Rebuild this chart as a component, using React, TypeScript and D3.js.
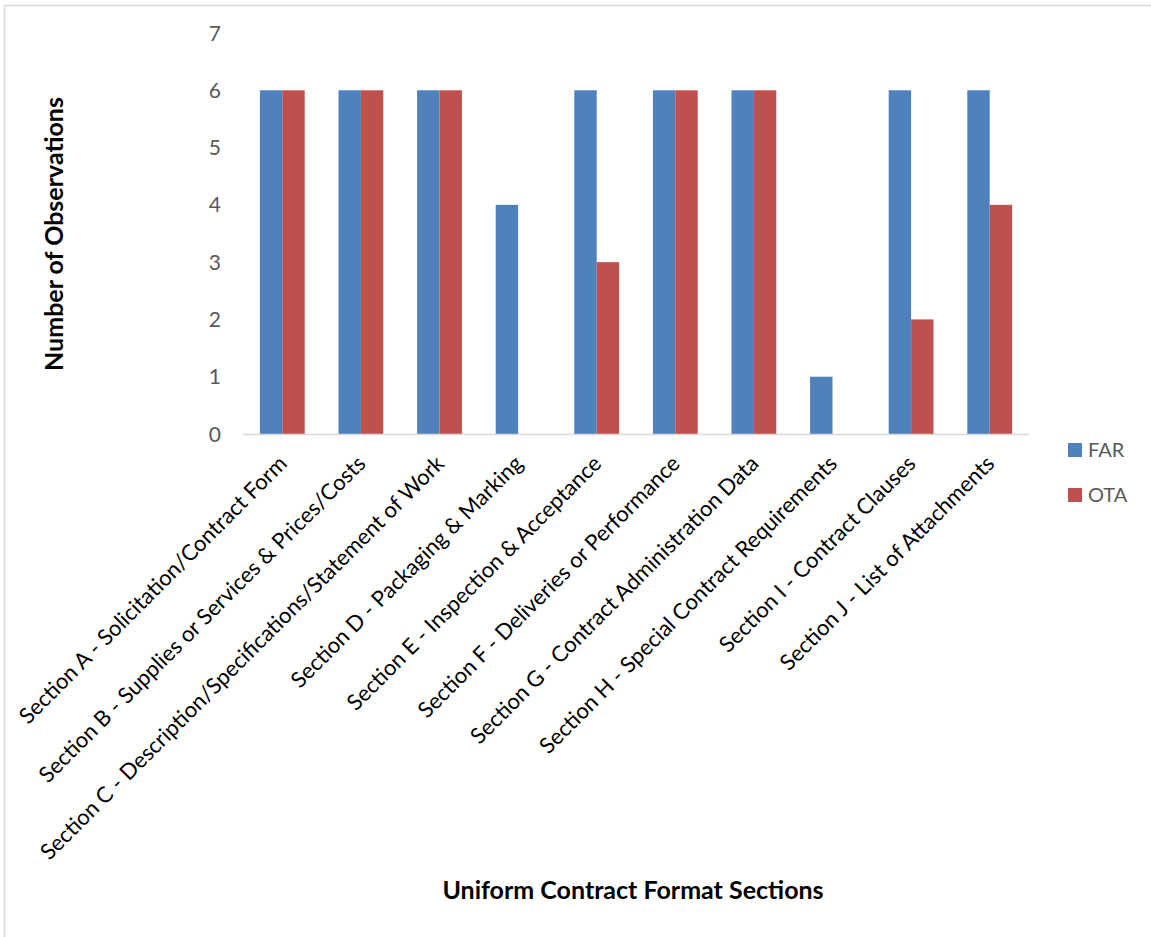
import React from "react";
import * as d3 from "d3";

const categories = [
  "Section A - Solicitation/Contract Form",
  "Section B - Supplies or Services & Prices/Costs",
  "Section C - Description/Specifications/Statement of Work",
  "Section D - Packaging & Marking",
  "Section E - Inspection & Acceptance",
  "Section F - Deliveries or Performance",
  "Section G - Contract Administration Data",
  "Section H - Special Contract Requirements",
  "Section I - Contract Clauses",
  "Section J - List of Attachments",
];
const farValues = [6, 6, 6, 4, 6, 6, 6, 1, 6, 6];
const otaValues = [6, 6, 6, 0, 3, 6, 6, 0, 2, 4];
const seriesNames = ["FAR", "OTA"];
const seriesColors = ["#4F81BD", "#C0504D"];
const yTicks = [0, 1, 2, 3, 4, 5, 6, 7];

const W = 1151;
const H = 937;
const FONT = "Lato, 'Open Sans', sans-serif";

export default function App() {
  const plot = { left: 243, right: 1029, top: 33, bottom: 434 };
  const x = d3.scaleBand<string>().domain(categories).range([plot.left, plot.right]).paddingInner(0.43).paddingOuter(0.215);
  const x1 = d3.scaleBand<string>().domain(seriesNames).range([0, x.bandwidth()]);
  const y = d3.scaleLinear().domain([0, 7]).range([plot.bottom, plot.top]);
  const series = [farValues, otaValues];

  return (
    <svg width={W} height={H} style={{ position: "absolute", left: 0, top: 0, background: "#fff" }}>
      <rect x={4.5} y={5.5} width={1200} height={1000} fill="#fff" stroke="#d9d9d9" strokeWidth={1.5} />
      {yTicks.map((t) => (
        <text key={t} x={221} y={y(t)} dy="0.36em" textAnchor="end" fontFamily={FONT} fontSize={21} fill="#595959">
          {t}
        </text>
      ))}
      {categories.map((c, i) =>
        series.map((vals, s) =>
          vals[i] > 0 ? (
            <rect
              key={c + s}
              x={(x(c) as number) + (x1(seriesNames[s]) as number)}
              y={y(vals[i])}
              width={x1.bandwidth()}
              height={y(0) - y(vals[i])}
              fill={seriesColors[s]}
            />
          ) : null
        )
      )}
      <line x1={plot.left} x2={plot.right} y1={plot.bottom + 0.5} y2={plot.bottom + 0.5} stroke="#d9d9d9" strokeWidth={1.5} />
      {categories.map((c) => {
        const cx = (x(c) as number) + x.bandwidth() / 2 + 6;
        const cy = plot.bottom + 31;
        return (
          <text
            key={c}
            transform={`translate(${cx},${cy}) rotate(-45)`}
            textAnchor="end"
            fontFamily={FONT}
            fontSize={22}
            fill="#000"
          >
            {c}
          </text>
        );
      })}
      <text
        transform={`translate(63,234) rotate(-90)`}
        textAnchor="middle"
        fontFamily={FONT}
        fontSize={25}
        fontWeight="bold"
        fill="#000"
      >
        Number of Observations
      </text>
      <text x={633} y={899} textAnchor="middle" fontFamily={FONT} fontSize={25} fontWeight="bold" fill="#000">
        Uniform Contract Format Sections
      </text>
      {seriesNames.map((n, i) => (
        <g key={n}>
          <rect x={1068} y={443 + i * 45} width={14} height={14} fill={seriesColors[i]} />
          <text x={1088} y={457 + i * 45} fontFamily={FONT} fontSize={20} fill="#595959">
            {n}
          </text>
        </g>
      ))}
    </svg>
  );
}
